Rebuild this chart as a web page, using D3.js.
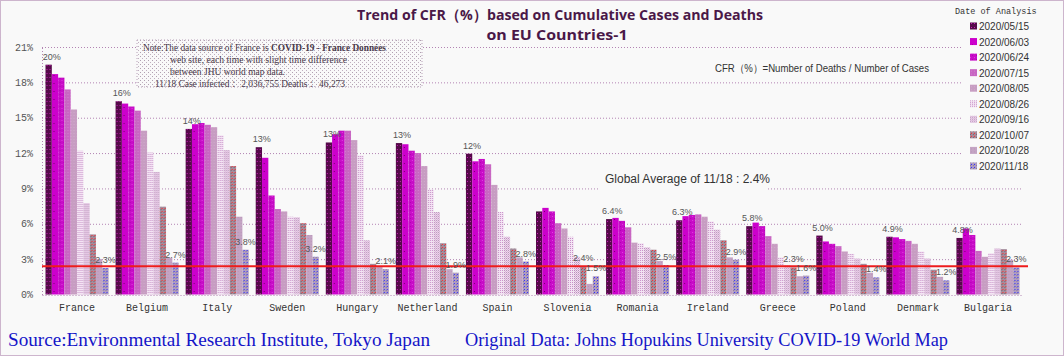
<!DOCTYPE html>
<html><head><meta charset="utf-8">
<script src="https://cdn.jsdelivr.net/npm/d3@7"></script>
<style>
html,body{margin:0;padding:0;background:#f9f9f9;}
svg{display:block;}
</style></head><body>
<svg id="c" width="1064" height="356"></svg>
<script>
const countries = ["France","Belgium","Italy","Sweden","Hungary","Netherland","Spain","Slovenia","Romania","Ireland","Greece","Poland","Denmark","Bulgaria"];
const dates = ["2020/05/15","2020/06/03","2020/06/24","2020/07/15","2020/08/05","2020/08/26","2020/09/16","2020/10/07","2020/10/28","2020/11/18"];
const v0515 = [19.5,16.4,14.05,12.5,12.9,12.85,11.95,7.05,6.4,6.3,5.8,5.0,4.9,4.8];
const v0603 = [18.7,16.2,14.45,11.6,13.6,12.75,11.3,7.35,6.5,6.65,6.1,4.5,4.85,5.6];
const v0624 = [18.4,15.95,14.55,8.4,13.9,12.2,11.5,7.05,6.25,6.75,5.8,4.3,4.7,5.05];
const v0715 = [17.4,15.6,14.4,7.25,13.9,12.0,11.05,6.05,5.7,6.8,4.95,4.1,4.55,3.7];
const v0805 = [15.7,13.9,14.2,7.05,13.1,10.9,9.3,5.6,4.4,6.6,4.3,3.65,4.3,3.2];
const v0826 = [12.2,12.05,13.5,6.6,11.8,8.9,7.0,4.9,4.35,6.2,3.15,3.45,3.65,3.5];
const v0916 = [7.75,10.4,12.25,6.55,4.6,7.0,4.9,3.2,4.0,5.5,2.5,3.05,3.05,3.9];
const v1007 = [5.1,7.45,10.9,6.05,2.6,4.35,3.9,2.4,3.8,4.6,2.3,2.6,2.1,3.85];
const v1028 = [3.0,3.1,6.6,5.05,2.4,2.15,3.15,0.9,2.85,3.15,1.55,1.85,1.5,2.95];
const v1118 = [2.25,2.7,3.8,3.2,2.15,1.85,2.8,1.55,2.5,2.95,1.6,1.45,1.2,2.3];
const yTicks = [0,3,6,9,12,15,18,21];
const yTickLabels = ["0%","3%","6%","9%","12%","15%","18%","21%"];
const firstLabels = ["20%","16%","14%","13%","13%","13%","12%","","6.4%","6.3%","5.8%","5.0%","4.9%","4.8%"];
const lastLabels = ["2.3%","2.7%","3.8%","3.2%","2.1%","1.9%","2.8%","1.5%","2.5%","2.9%","1.6%","1.4%","1.2%","2.3%"];
const oct07Labels = ["","","","","","","","2.4%","","","2.3%","","",""];
const globalAverage = 2.4;

const seriesValues = [v0515,v0603,v0624,v0715,v0805,v0826,v0916,v1007,v1028,v1118];

const svg = d3.select("#c");
const W = 1064, H = 356;
const BG = "#f9f9f9";
svg.append("rect").attr("width",W).attr("height",H).attr("fill",BG);

// patterns
const defs = svg.append("defs");
const patSpecs = [
  {bg:"#560a4a", dots:[[1,1,"#c81cb8"]], s:[3,4]},
  {bg:"#cc00cc", dots:[[2,3,"#7a0070"]], s:[6,8]},
  {bg:"#c80cc8", dots:[[0,0,"#e040e0"],[2,2,"#b000b0"]], s:[4,4]},
  {bg:"#c866c2", dots:[[1,1,"#d080d0"]], s:[3,3]},
  {bg:"#c79dc2", dots:[[1,1,"#d0aacc"]], s:[3,3]},
  {bg:"#f3e4f3", dots:[[0,0,"#c890c8"]], s:[2,2]},
  {bg:"#f0dcef", dots:[[0,0,"#b890b8"],[1,1,"#d8b0d8"]], s:[2,2]},
  {bg:"#a48c9c", dots:[[1,1,"#ff2a2a"],[0,2,"#7a6270"]], s:[3,3]},
  {bg:"#c4a4c4", dots:[[1,1,"#b898b8"]], s:[3,3]},
  {bg:"#b09cc0", dots:[[1,1,"#3030ff"],[0,2,"#8c7c9c"]], s:[3,3]}
];
patSpecs.forEach((p,i)=>{
  const pt = defs.append("pattern").attr("id","p"+i).attr("patternUnits","userSpaceOnUse")
    .attr("width",p.s[0]).attr("height",p.s[1]);
  pt.append("rect").attr("width",p.s[0]).attr("height",p.s[1]).attr("fill",p.bg);
  p.dots.forEach(d=>pt.append("rect").attr("x",d[0]).attr("y",d[1]).attr("width",1).attr("height",1).attr("fill",d[2]));
});
const st = defs.append("pattern").attr("id","stip").attr("patternUnits","userSpaceOnUse").attr("width",4).attr("height",4);
st.append("rect").attr("width",4).attr("height",4).attr("fill",BG);
st.append("rect").attr("x",0).attr("y",0).attr("width",1).attr("height",1).attr("fill","#b0a0b0");
st.append("rect").attr("x",2).attr("y",2).attr("width",1).attr("height",1).attr("fill","#c0b0c0");

const x0 = d3.scaleBand().domain(countries).range([42,1023]).paddingInner(0.1).paddingOuter(0.05);
const x1 = d3.scaleBand().domain(dates).range([0,x0.bandwidth()]);
const y = d3.scaleLinear().domain([0,21]).range([294.5,47]);

// gridlines
const grid = d3.axisLeft(y).tickValues(yTicks.slice(1)).tickSize(-(1023-42)).tickFormat("");
const gg = svg.append("g").attr("transform","translate(42,0)").call(grid);
gg.select(".domain").remove();
gg.selectAll("line").attr("stroke","#b384b3").attr("stroke-dasharray","1,2");

// y axis labels
const ya = d3.axisLeft(y).tickValues(yTicks).tickSize(0).tickPadding(9).tickFormat((d,i)=>yTickLabels[i]);
const yg = svg.append("g").attr("transform","translate(42,0)").call(ya);
yg.select(".domain").attr("stroke","#b384b3").attr("stroke-dasharray","1,2");
yg.selectAll("text").attr("font-family","Liberation Mono, monospace").attr("font-size",10).attr("fill","#555");

// x axis
const xa = d3.axisBottom(x0).tickSize(0).tickPadding(9);
const xg = svg.append("g").attr("transform","translate(0,295)").call(xa);
xg.select(".domain").attr("stroke","#b384b3").attr("stroke-dasharray","1,2");
xg.selectAll("text").attr("font-family","Liberation Mono, monospace").attr("font-size",10).attr("fill","#333");

// bars
const groups = svg.append("g").selectAll("g").data(countries).join("g")
  .attr("transform",d=>`translate(${x0(d)},0)`);
groups.selectAll("rect").data((c,ci)=>dates.map((d,si)=>({date:d,si,v:seriesValues[si][ci]})))
  .join("rect")
  .attr("x",d=>x1(d.date)).attr("width",x1.bandwidth())
  .attr("y",d=>y(d.v)).attr("height",d=>y(0)-y(d.v))
  .attr("fill",d=>`url(#p${d.si})`);

// red average line
svg.append("line").attr("x1",42).attr("x2",1028).attr("y1",y(globalAverage)).attr("y2",y(globalAverage))
  .attr("stroke","#ee1c1c").attr("stroke-width",2);

// data labels
const lab = svg.append("g").attr("font-family","Liberation Sans, Arial, sans-serif").attr("font-size",9).attr("fill","#555").attr("text-anchor","middle");
countries.forEach((c,i)=>{
  if(firstLabels[i]) lab.append("text").attr("x",x0(c)+x1(dates[0])+x1.bandwidth()/2+3)
    .attr("y",y(v0515[i])-5).text(firstLabels[i]);
  if(lastLabels[i]) lab.append("text").attr("x",x0(c)+x1(dates[9])+x1.bandwidth()/2)
    .attr("y",y(v1118[i])-5).text(lastLabels[i]);
  if(oct07Labels[i]) lab.append("text").attr("x",x0(c)+x1(dates[7])+x1.bandwidth()/2)
    .attr("y",y(v1007[i])-5).text(oct07Labels[i]);
});

// note box
svg.append("rect").attr("x",137).attr("y",40).attr("width",285).attr("height",47)
  .attr("fill","url(#stip)").attr("stroke","#b8a0b8").attr("stroke-dasharray","1,2");
const note = svg.append("g").attr("font-family","Liberation Serif, serif").attr("font-size",11).attr("fill","#4a3a4a");
const n1 = note.append("text").attr("x",143).attr("y",51).attr("font-size",9.3);
n1.append("tspan").text("Note:The data source of France is ");
n1.append("tspan").attr("font-weight","bold").text("COVID-19 - France Données");
note.append("text").attr("x",170).attr("y",63).attr("textLength",177).attr("lengthAdjust","spacingAndGlyphs").text("web site, each time with slight time difference");
note.append("text").attr("x",170).attr("y",75).attr("textLength",115).attr("lengthAdjust","spacingAndGlyphs").text("between JHU world map data.");
note.append("text").attr("x",155).attr("y",87).attr("textLength",190).attr("lengthAdjust","spacingAndGlyphs").text("11/18 Case infected： 2,036,755 Deaths： 46,273");

// formula
svg.append("text").attr("x",715).attr("y",72).attr("font-family","Liberation Sans, Arial, sans-serif")
  .attr("font-size",11).attr("fill","#333").attr("textLength",214).attr("lengthAdjust","spacingAndGlyphs")
  .text("CFR（%）=Number of  Deaths / Number of Cases");

// global average label
svg.append("rect").attr("x",600).attr("y",169).attr("width",168).attr("height",22).attr("fill",BG);
svg.append("text").attr("x",605).attr("y",183).attr("font-family","Liberation Sans, Arial, sans-serif")
  .attr("font-size",12).attr("fill","#333").text("Global Average of 11/18 : 2.4%");

// legend
svg.append("rect").attr("x",962).attr("y",2).attr("width",100).attr("height",170).attr("fill",BG);
svg.append("text").attr("x",955).attr("y",14).attr("font-family","Liberation Mono, monospace")
  .attr("font-size",8.5).attr("fill","#333").text("Date of Analysis");
const lg = svg.append("g").selectAll("g").data(dates).join("g")
  .attr("transform",(d,i)=>`translate(970,${26+i*15.55})`);
lg.append("rect").attr("x",0).attr("y",-3.5).attr("width",7).attr("height",7).attr("fill",(d,i)=>`url(#p${i})`);
lg.append("text").attr("x",9).attr("y",4).attr("font-family","Liberation Sans, Arial, sans-serif")
  .attr("font-size",10).attr("fill","#333").text(d=>d);

// title
const tt = svg.append("g").attr("font-family","Open Sans, Noto Sans, sans-serif").attr("font-weight","bold")
  .attr("font-size",15).attr("fill","#4a1848").attr("text-anchor","middle");
tt.append("text").attr("x",560).attr("y",20).attr("textLength",406).attr("lengthAdjust","spacingAndGlyphs")
  .text("Trend of CFR（%）based on Cumulative Cases and Deaths");
tt.append("text").attr("x",557).attr("y",40).attr("textLength",141).attr("lengthAdjust","spacingAndGlyphs")
  .text("on EU Countries-1");

// footer
const ft = svg.append("g").attr("font-family","Liberation Serif, Times New Roman, serif").attr("font-size",19).attr("fill","#1414c8");
ft.append("text").attr("x",8).attr("y",346).attr("textLength",422).attr("lengthAdjust","spacingAndGlyphs")
  .text("Source:Environmental Research Institute, Tokyo Japan");
ft.append("text").attr("x",465).attr("y",346).attr("textLength",483).attr("lengthAdjust","spacingAndGlyphs")
  .text("Original Data: Johns Hopukins University COVID-19 World Map");

// border
svg.append("rect").attr("x",0.5).attr("y",0.5).attr("width",W-1).attr("height",H-1)
  .attr("fill","none").attr("stroke","#a070a0").attr("stroke-dasharray","1,1");
</script>
</body></html>
